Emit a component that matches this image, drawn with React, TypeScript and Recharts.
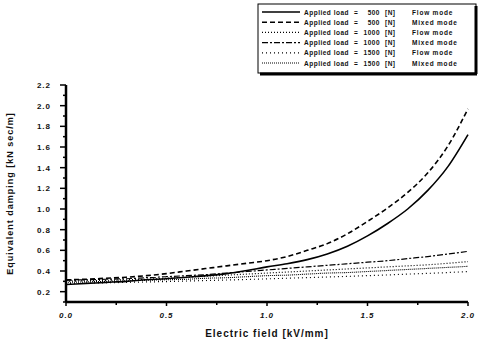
import { LineChart, Line, XAxis, YAxis } from 'recharts'

const field = [0, 0.1, 0.2, 0.3, 0.4, 0.5, 0.6, 0.7, 0.8, 0.9, 1.0, 1.1, 1.2, 1.3, 1.4, 1.5, 1.6, 1.7, 1.8, 1.9, 2.0]

const flow500 = [0.27, 0.28, 0.29, 0.3, 0.315, 0.325, 0.34, 0.355, 0.375, 0.405, 0.44, 0.47, 0.51, 0.565, 0.64, 0.74, 0.86, 1.0, 1.18, 1.41, 1.72]
const mixed500 = [0.315, 0.32, 0.33, 0.34, 0.355, 0.375, 0.4, 0.425, 0.45, 0.475, 0.5, 0.54, 0.6, 0.665, 0.76, 0.88, 1.01, 1.16, 1.35, 1.61, 1.97]
const flow1000 = [0.3, 0.305, 0.31, 0.315, 0.32, 0.33, 0.34, 0.35, 0.36, 0.37, 0.38, 0.39, 0.4, 0.41, 0.42, 0.43, 0.44, 0.45, 0.46, 0.475, 0.49]
const mixed1000 = [0.31, 0.315, 0.32, 0.325, 0.335, 0.345, 0.355, 0.365, 0.38, 0.395, 0.41, 0.425, 0.44, 0.455, 0.47, 0.485, 0.5, 0.52, 0.54, 0.565, 0.59]
const flow1500 = [0.28, 0.283, 0.286, 0.29, 0.294, 0.298, 0.303, 0.308, 0.313, 0.318, 0.324, 0.33, 0.336, 0.342, 0.348, 0.355, 0.362, 0.37, 0.377, 0.385, 0.395]
const mixed1500 = [0.29, 0.295, 0.3, 0.305, 0.31, 0.315, 0.32, 0.33, 0.335, 0.345, 0.355, 0.36, 0.37, 0.38, 0.385, 0.395, 0.405, 0.415, 0.425, 0.435, 0.445]

const xTicks = [0, 0.25, 0.5, 0.75, 1.0, 1.25, 1.5, 1.75, 2.0]
const yTicks = [0.1, 0.2, 0.3, 0.4, 0.5, 0.6, 0.7, 0.8, 0.9, 1.0, 1.1, 1.2, 1.3, 1.4, 1.5, 1.6, 1.7, 1.8, 1.9, 2.0, 2.1, 2.2]

const series = [
  { key: 'flow500', load: '500', mode: 'Flow mode', dash: undefined, width: 1.6 },
  { key: 'mixed500', load: '500', mode: 'Mixed mode', dash: '5 3', width: 1.6 },
  { key: 'flow1000', load: '1000', mode: 'Flow mode', dash: '1 2', width: 1.2 },
  { key: 'mixed1000', load: '1000', mode: 'Mixed mode', dash: '6 2 2 2', width: 1.2 },
  { key: 'flow1500', load: '1500', mode: 'Flow mode', dash: '1 3', width: 1.2 },
  { key: 'mixed1500', load: '1500', mode: 'Mixed mode', dash: '1 1', width: 1.1 },
]

const data = field.map((f, i) => ({
  field: f,
  flow500: flow500[i],
  mixed500: mixed500[i],
  flow1000: flow1000[i],
  mixed1000: mixed1000[i],
  flow1500: flow1500[i],
  mixed1500: mixed1500[i],
}))

const font = '"Liberation Sans", Arial, sans-serif'

const YTick = (props: any) => {
  const { x, y, payload } = props
  const major = Math.round(payload.value * 10) % 2 === 0
  return (
    <g>
      <line x1={x} x2={x - (major ? 6 : 3)} y1={y} y2={y} stroke="#000" strokeWidth={1.5} />
      {major && (
        <text x={x - 15} y={y} dy={3} textAnchor="end" fontSize={8} fontWeight="bold" fontFamily={font} fill="#111" letterSpacing={1}>
          {payload.value.toFixed(1)}
        </text>
      )}
    </g>
  )
}

const XTick = (props: any) => {
  const { x, y, payload } = props
  const major = Math.round(payload.value * 100) % 50 === 0
  return (
    <g>
      <line x1={x} x2={x} y1={y} y2={y + (major ? 4 : 3)} stroke="#000" strokeWidth={1.5} />
      {major && (
        <text x={x} y={y + 16} textAnchor="middle" fontSize={8} fontWeight="bold" fontStyle="italic" fontFamily={font} fill="#111" letterSpacing={1}>
          {payload.value.toFixed(1)}
        </text>
      )}
    </g>
  )
}

const LegendBox = () => (
  <svg width={224} height={74} style={{ display: 'block' }}>
    <rect x={1} y={1} width={218} height={69} fill="#fff" stroke="#000" strokeWidth={1} />
    <line x1={219} y1={3} x2={219} y2={71} stroke="#000" strokeWidth={3} />
    <line x1={3} y1={71} x2={220} y2={71} stroke="#000" strokeWidth={3} />
    {series.map((s, i) => {
      const cy = 9 + i * 10.2
      return (
        <g key={s.key} fontFamily={font} fontWeight="bold" fontSize={6.5} fill="#111">
          <line x1={5} x2={43} y1={cy} y2={cy} stroke="#000" strokeWidth={s.width} strokeDasharray={s.dash} />
          <text x={47} y={cy + 2.5} letterSpacing={0.5}>Applied load</text>
          <text x={97} y={cy + 2.5}>=</text>
          <text x={123} y={cy + 2.5} textAnchor="end" letterSpacing={0.5}>{s.load}</text>
          <text x={128} y={cy + 2.5} letterSpacing={0.5}>[N]</text>
          <text x={155} y={cy + 2.5} letterSpacing={0.8}>{s.mode}</text>
        </g>
      )
    })}
  </svg>
)

export default function App() {
  return (
    <div style={{ position: 'absolute', left: 0, top: 0, width: 479, height: 340, background: '#fff' }}>
      <LineChart width={479} height={340} data={data} margin={{ top: 85, right: 11, bottom: 0, left: 0 }}>
        <XAxis
          dataKey="field"
          type="number"
          domain={[0, 2]}
          ticks={xTicks}
          tick={<XTick />}
          tickLine={false}
          tickSize={0}
          tickMargin={0}
          height={38}
          axisLine={{ stroke: '#000', strokeWidth: 2.5 }}
          interval={0}
          label={{ value: 'Electric field  [kV/mm]', position: 'insideBottom', offset: 3, fontSize: 10, fontWeight: 'bold', fontFamily: font, fill: '#111', letterSpacing: 1 }}
        />
        <XAxis xAxisId="top" orientation="top" dataKey="field" type="number" domain={[0, 2]} height={0} tick={false} tickLine={false} axisLine={{ stroke: '#000', strokeWidth: 2 }} />
        <YAxis
          type="number"
          domain={[0.1, 2.2]}
          ticks={yTicks}
          tick={<YTick />}
          tickLine={false}
          tickSize={0}
          tickMargin={0}
          width={66}
          interval={0}
          allowDataOverflow
          axisLine={{ stroke: '#000', strokeWidth: 2.5 }}
          label={{ value: 'Equivalent damping [kN sec/m]', angle: -90, position: 'insideLeft', offset: 10, fontSize: 9, fontWeight: 'bold', fontFamily: font, fill: '#111', letterSpacing: 1, style: { textAnchor: 'middle' } }}
        />
        <YAxis yAxisId="right" orientation="right" domain={[0.1, 2.2]} width={0} tick={false} tickLine={false} axisLine={{ stroke: '#000', strokeWidth: 2.5 }} />
        {series.map((s) => (
          <Line
            key={s.key}
            dataKey={s.key}
            type="monotone"
            stroke="#000"
            strokeWidth={s.width}
            strokeDasharray={s.dash}
            dot={false}
            isAnimationActive={false}
          />
        ))}
      </LineChart>
      <div style={{ position: 'absolute', left: 257, top: 3 }}>
        <LegendBox />
      </div>
    </div>
  )
}
